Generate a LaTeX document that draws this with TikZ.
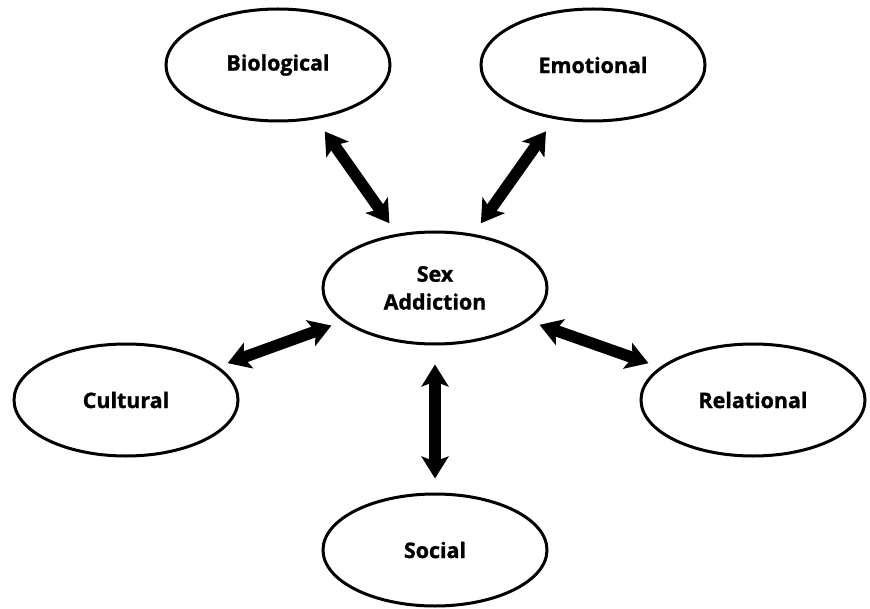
\documentclass[tikz,border=0pt]{standalone}
\usepackage{fontspec}
\setmainfont{Open Sans}[BoldFeatures={FakeBold=1.2}]
\usetikzlibrary{arrows.meta,shapes.geometric}
\begin{document}
\begin{tikzpicture}
[x=1bp,y=-1bp,
  factordecorate/.style={shape=ellipse,draw,line width=3bp,minimum width=224bp,minimum height=112bp,inner sep=0pt,align=center,font=\fontsize{21.5}{28}\selectfont\bfseries},%
  arrowdecorate/.style={{Stealth[length=22bp,width=27bp,inset=5bp]}-{Stealth[length=22bp,width=27bp,inset=5bp]},line width=11.5bp}]
\useasboundingbox (0,0) rectangle (870,609);
% nodes or vertices
\node (sex) at (435,288) [factordecorate] {Sex\\Addiction};
\node (bio) at (278,65) [factordecorate] {Biological};
\node (emo) at (593,65) [factordecorate] {Emotional};
\node (cul) at (126,400) [factordecorate] {Cultural};
\node (rel) at (753,400) [factordecorate] {Relational};
\node (soc) at (435,550) [factordecorate] {Social};
% edges or lines
\draw[arrowdecorate,shorten <=15bp,shorten >=13bp] (bio) -- (sex);
\draw[arrowdecorate,shorten <=15bp,shorten >=13bp] (emo) -- (sex);
\draw[arrowdecorate,shorten <=10bp,shorten >=12bp] (cul) -- (sex);
\draw[arrowdecorate,shorten <=12bp,shorten >=12bp] (rel) -- (sex);
\draw[arrowdecorate,shorten <=14bp,shorten >=19bp] (soc) -- (sex);
\end{tikzpicture}
\end{document}
